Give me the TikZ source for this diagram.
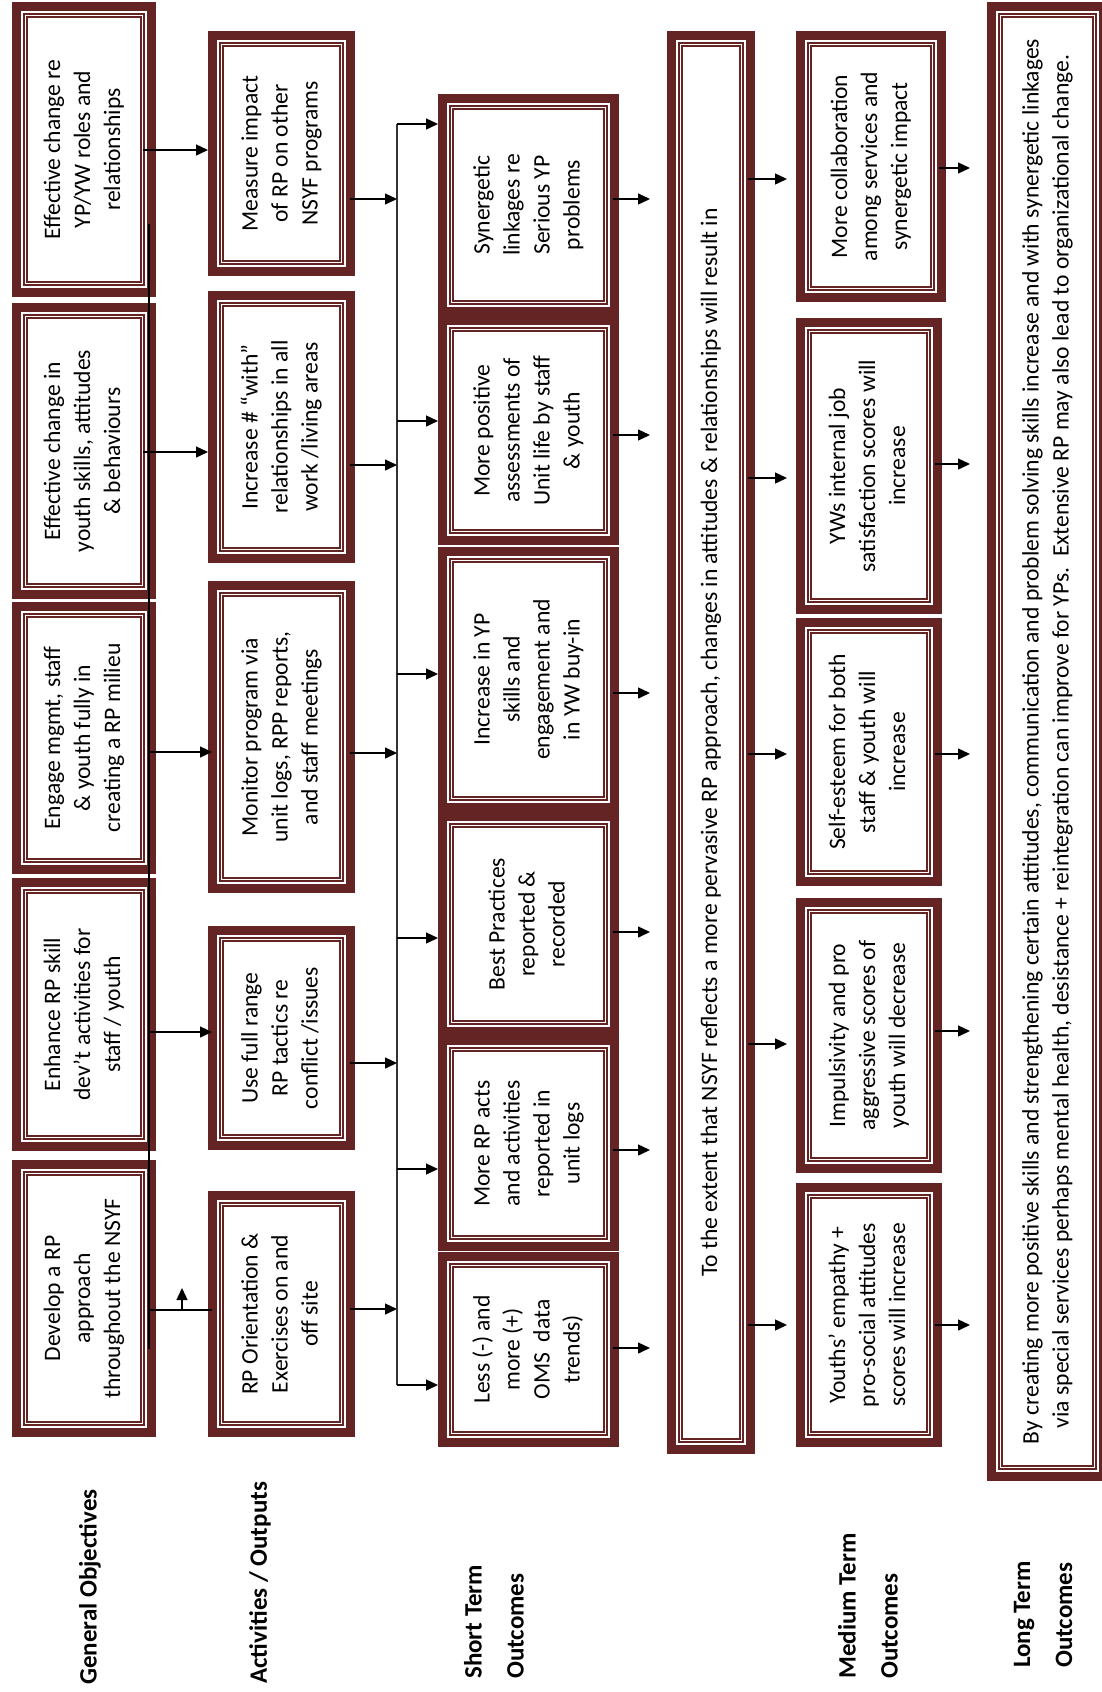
\documentclass[tikz,border=0pt]{standalone}
\usepackage{fontspec}
\setmainfont{Carlito}
\usepackage{graphicx}
\usetikzlibrary{arrows.meta}
\definecolor{rpm}{RGB}{99,36,35}
\tikzset{
  rpbox/.style={fill=white, inner sep=0pt, outer sep=0pt, font=\fontsize{23.6}{30}\selectfont,
    path picture={
      \coordinate (ppa) at (path picture bounding box.south west);
      \coordinate (ppb) at (path picture bounding box.north east);
      \fill[rpm] (ppa) rectangle (ppb);
      \fill[white] ([shift={(9pt,9pt)}]ppa) rectangle ([shift={(-9pt,-9pt)}]ppb);
      \draw[rpm,line width=1.6pt] ([shift={(11.8pt,11.8pt)}]ppa) rectangle ([shift={(-11.8pt,-11.8pt)}]ppb);
      \draw[rpm,line width=1.1pt] ([shift={(15pt,15pt)}]ppa) rectangle ([shift={(-15pt,-15pt)}]ppb);
    }},
  arr/.style={draw=black, line width=1.4pt, -{Triangle[length=12pt,width=11pt]}},
  plain/.style={draw=black, line width=1.4pt},
  bus/.style={draw=black!80, line width=1.6pt},
  lab/.style={rotate=90, anchor=west, align=left, font=\fontsize{25}{42}\selectfont\bfseries, inner sep=0pt},
}
\newcommand\rpnode[6]{%
  \node[rpbox, minimum width={(#4-#2)*1pt}, minimum height={(#5-#3)*1pt}] (#1) at ({(#2+#4)/2+1.5},{(#3+#5)/2}) {\rotatebox{90}{\begin{tabular}{@{}c@{}}#6\end{tabular}}};}
\begin{document}
\begin{tikzpicture}[x=1pt,y=-1pt]
\useasboundingbox[fill=white] (0,0) rectangle (1102,1692);
% General objectives
\rpnode{go1}{10.5}{2}{154.5}{297}{Effective change re\\YP/YW roles and\\relationships}
\rpnode{go2}{10.5}{303}{154.5}{599}{Effective change in\\youth skills, attitudes\\\& behaviours}
\rpnode{go3}{10.5}{602}{154.5}{874}{Engage mgmt, staff\\\& youth fully in\\creating a RP milieu}
\rpnode{go4}{10.5}{878}{154.5}{1151}{Enhance RP skill\\dev't activities for\\staff / youth}
\rpnode{go5}{10.5}{1160}{154.5}{1437}{Develop a RP\\approach\\throughout the NSYF}
% Activities
\rpnode{act1}{206.5}{31}{353.5}{276}{Measure impact\\of RP on other\\NSYF programs}
\rpnode{act2}{206.5}{291}{353.5}{563}{Increase \# “with”\\relationships in all\\work /living areas}
\rpnode{act3}{206.5}{581}{353.5}{893}{Monitor program via\\unit logs, RPP reports,\\and staff meetings}
\rpnode{act4}{206.5}{926}{353.5}{1150}{Use full range\\RP tactics re\\conflict /issues}
\rpnode{act5}{206.5}{1191}{353.5}{1437}{RP Orientation \&\\Exercises on and\\off site}
% Short term
\rpnode{st1}{436.5}{94}{617.5}{316}{Synergetic\\linkages re\\Serious YP\\problems}
\rpnode{st2}{436.5}{316}{617.5}{545}{More positive\\assessments of\\Unit life by staff\\\& youth}
\rpnode{st3}{436.5}{547}{617.5}{812}{Increase in YP\\skills and\\engagement and\\in YW buy-in}
\rpnode{st4}{436.5}{812}{617.5}{1036}{Best Practices\\reported \&\\recorded}
\rpnode{st5}{436.5}{1036}{617.5}{1251}{More RP acts\\and activities\\reported in\\unit logs}
\rpnode{st6}{436.5}{1252}{617.5}{1447}{Less (-) and\\more (+)\\OMS~~data\\trends)}
% NSYF
\rpnode{nsyf}{665.5}{31}{753.5}{1454}{To the extent that NSYF reflects a more pervasive RP approach, changes in attitudes \& relationships will result in}
% Medium
\rpnode{md1}{794.5}{31}{944.5}{302}{More collaboration\\among services and\\synergetic impact}
\rpnode{md2}{794.5}{318}{940.5}{614}{YWs internal job\\satisfaction scores will\\increase}
\rpnode{md3}{794.5}{618}{940.5}{886}{Self-esteem for both\\staff \& youth will\\increase}
\rpnode{md4}{794.5}{898}{940.5}{1173}{Impulsivity and pro\\aggressive scores of\\youth will decrease}
\rpnode{md5}{794.5}{1183}{940.5}{1447}{Youths’ empathy +\\pro-social attitudes\\scores will increase}
% Long
\rpnode{lt}{985.5}{2}{1106.5}{1481}{By creating more positive skills and strengthening certain attitudes, communication and problem solving skills increase and with synergetic linkages\\via special services perhaps mental health, desistance + reintegration can improve for YPs.~~Extensive RP may also lead to organizational change.}
% labels
\node[lab] (lgo) at (90,1685) {General Objectives};
\node[lab] (lact) at (260,1684) {Activities / Outputs};
\node[lab] (lst) at (494,1679) {Short Term\\Outcomes};
\node[lab] (lmd) at (868,1679) {Medium Term\\Outcomes};
\node[lab] (llt) at (1043,1668) {Long Term\\Outcomes};
% GO -> activities
\draw[arr, shorten <=-13pt] (go1.east |- 0,150) -- (act1.west |- 0,150);
\draw[arr, shorten <=-13pt] (go2.east |- 0,452) -- (act2.west |- 0,452);
\draw[arr, shorten <=-6pt, shorten >=-4pt] (go3.east |- 0,752) -- (act3.west |- 0,752);
\draw[arr, shorten <=-6pt, shorten >=-4pt] (go4.east |- 0,1032) -- (act4.west |- 0,1032);
\draw[plain, shorten <=-6pt, shorten >=-4pt] (go5.east |- 0,1310) -- (act5.west |- 0,1310);
\coordinate (up0) at (182,1310);
\coordinate (up1) at (182,1288);
\draw[arr] (up0) -- (up1);
% bus
\coordinate (bt) at (397,124);
\coordinate (bb) at (397,1385);
\draw[bus] (bt) -- (bb);
\draw[arr] (bt) -- (st1.west |- bt);
\foreach \y/\n in {421/st2, 674/st3, 938/st4, 1169/st5} {
  \coordinate (bj) at (397,\y);
  \draw[arr] (bj) -- (\n.west |- bj);
}
\draw[arr] (bb) -- (st6.west |- bb);
% activities -> bus
\foreach \y/\n in {199/act1, 465/act2, 753/act3, 1063/act4, 1309/act5} {
  \coordinate (ba) at (397,\y);
  \draw[arr, shorten <=-5pt] (\n.east |- ba) -- (ba);
}
% short term -> NSYF
\foreach \y/\n in {199/st1, 435/st2, 693/st3, 932/st4, 1150/st5, 1348/st6} {
  \draw[arr, shorten <=-6pt, shorten >=17pt] (\n.east |- 0,\y) -- (nsyf.west |- 0,\y);
}
% NSYF -> medium
\foreach \y/\n in {179/md1, 478/md2, 754/md3, 1044/md4, 1325/md5} {
  \draw[arr, shorten <=-7pt, shorten >=9pt] (nsyf.east |- 0,\y) -- (\n.west |- 0,\y);
}
% medium -> long
\foreach \y/\n in {168/md1, 464/md2, 754/md3, 1031/md4, 1325/md5} {
  \draw[arr, shorten <=-7pt, shorten >=17pt] (\n.east |- 0,\y) -- (lt.west |- 0,\y);
}
% long vertical line over GO column
\coordinate (vl1) at (149,224);
\coordinate (vl2) at (149,1349);
\draw[line width=1.8pt] (vl1) -- (vl2);
\end{tikzpicture}
\end{document}
